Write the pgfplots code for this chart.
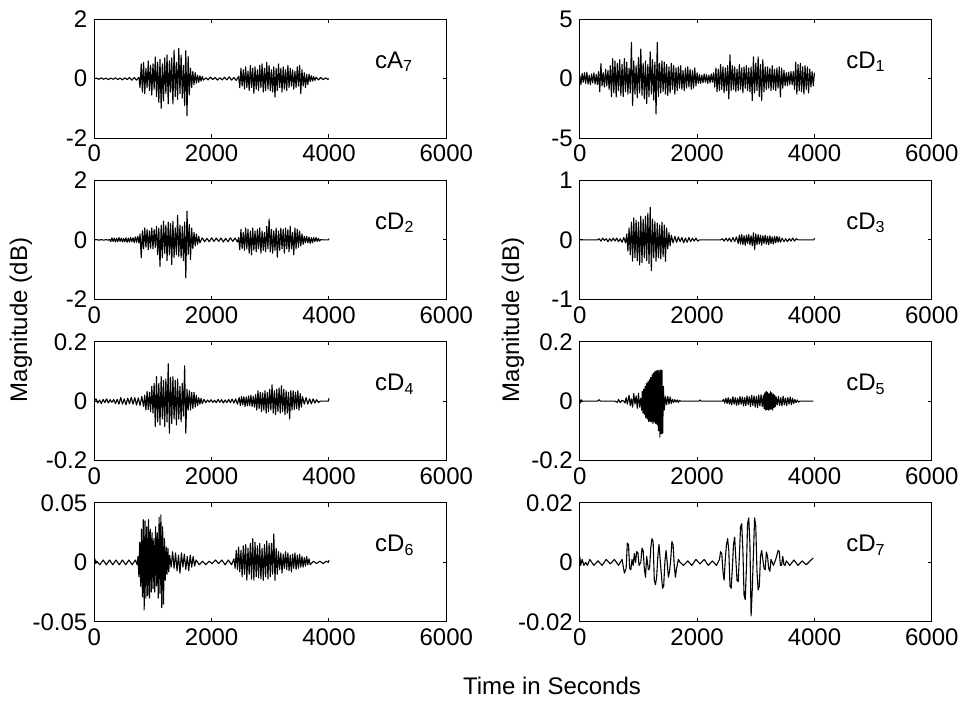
\documentclass[border=0pt]{standalone}
\usepackage{pgfplots}
\pgfplotsset{compat=1.18}
\usepackage{fontspec}
\setmainfont{Liberation Sans}

\pgfplotsset{
  sub/.style={
    scale only axis, width=176pt, height=59.4pt,
    anchor=north west,
    xmin=0, xmax=6000,
    xtick={0,2000,4000,6000}, xticklabels={0,2000,4000,6000},
    scaled ticks=false,
    tick align=inside, major tick length=1.8pt,
    tick style={black, line width=0.5pt},
    axis line style={line width=0.5pt},
    tick label style={font=\fontsize{12}{14}\selectfont},
  },
}
\tikzset{
  lab/.style={anchor=base west, inner sep=0pt, font=\fontsize{12}{14}\selectfont},
  sig/.style={black, line width=0.55pt, mark=none, line join=round},
}

\begin{document}
\begin{tikzpicture}
\useasboundingbox (0,0) rectangle (483pt,351pt);

% row 1 left: cA7
\begin{axis}[sub, at={(47.15pt,341.35pt)}, ymin=-2, ymax=2, ytick={-2,0,2}, yticklabels={-2,0,2}]
\addplot[sig] coordinates {(0,0)(40,0.02)(80,-0.02)(120,0.03)(160,-0.02)(200,0.02)(240,-0.03)(280,0.02)(320,-0.02)(360,0.03)(400,-0.03)(440,0.02)(480,-0.04)(520,0.03)(560,-0.03)(600,0.04)(640,-0.05)(680,0.04)(720,-0.05)(760,0.05)
(780,-0.3)(800,0.5)(820,-0.45)(840,0.55)(860,-0.5)(880,0.35)(900,-0.3)(920,0.6)(940,-0.4)(960,0.45)(980,-0.55)(1000,0.5)(1020,-0.35)(1040,0.73)(1060,-0.6)(1080,0.55)(1100,-0.8)(1120,0.65)(1140,-1.0)(1160,0.5)(1180,-0.75)(1200,0.7)(1220,-0.5)(1240,0.8)(1260,-0.85)(1280,0.6)(1300,-0.45)(1320,0.7)(1340,-0.85)(1360,0.96)(1380,-0.6)(1400,0.55)(1420,-0.7)(1440,1.02)(1460,-0.5)(1480,0.8)(1500,-0.65)(1520,0.45)(1540,-0.9)(1560,0.95)(1580,-1.24)(1600,0.75)(1620,-0.55)(1640,0.35)(1660,-0.3)(1680,0.25)(1700,-0.2)(1720,0.2)(1740,-0.15)(1760,0.12)(1780,-0.12)(1800,0.1)(1820,-0.08)(1840,0.08)(1860,-0.05)
(1900,0.03)(1940,-0.04)(1980,0.05)(2020,-0.03)(2060,0.04)(2100,-0.05)(2140,0.03)(2180,-0.04)(2220,0.05)(2260,-0.04)(2300,0.06)(2340,-0.05)(2380,0.04)(2420,-0.06)(2460,0.08)
(2480,-0.3)(2500,0.35)(2520,-0.25)(2540,0.3)(2560,-0.35)(2580,0.4)(2600,-0.3)(2620,0.25)(2640,-0.4)(2660,0.45)(2680,-0.3)(2700,0.35)(2720,-0.5)(2740,0.4)(2760,-0.35)(2780,0.3)(2800,-0.4)(2820,0.45)(2840,-0.3)(2860,0.5)(2880,-0.45)(2900,0.35)(2920,-0.4)(2940,0.55)(2960,-0.35)(2980,0.45)(3000,-0.4)(3020,0.3)(3040,-0.45)(3060,0.4)(3080,-0.62)(3100,0.35)(3120,-0.4)(3140,0.5)(3160,-0.3)(3180,0.35)(3200,-0.45)(3220,0.4)(3240,-0.35)(3260,0.3)(3280,-0.4)(3300,0.45)(3320,-0.3)(3340,0.35)(3360,-0.25)(3380,0.3)(3400,-0.35)(3420,0.25)(3440,-0.3)(3460,0.4)(3480,-0.25)(3500,0.45)(3520,-0.5)(3540,0.3)(3560,-0.25)(3580,0.2)(3600,-0.3)(3620,0.15)(3640,-0.2)(3660,0.15)(3680,-0.1)(3700,0.1)(3720,-0.08)(3740,0.07)(3760,-0.06)(3780,0.05)
(3820,-0.04)(3860,0.04)(3900,-0.03)(3940,0.03)(3980,-0.02)(4000,0)};
\node[lab] at (rel axis cs:0.797,0.59) {cA\textsubscript{7}};
\end{axis}

% row 1 right: cD1
\begin{axis}[sub, at={(289.9pt,341.35pt)}, ymin=-5, ymax=5, ytick={-5,0,5}, yticklabels={-5,0,5}]
\addplot[sig] coordinates {(0,0.3)(20,-0.5)(40,0.45)(60,-0.3)(80,0.5)(100,-0.4)(120,0.55)(140,-0.45)(160,0.3)(180,-0.5)(200,0.4)(220,-0.35)(240,0.5)(260,-0.45)(280,0.35)(300,-0.5)(320,0.6)(340,-1.1)(360,1.27)(380,-0.6)(400,0.5)(420,-0.7)(440,0.8)(460,-0.6)(480,0.7)(500,-0.9)(520,1.1)(540,-1.5)(560,1.7)(580,-1.2)(600,1.5)(620,-1.55)(640,1.3)(660,-1.0)(680,1.6)(700,-1.4)(720,1.2)(740,-1.5)(760,1.7)(780,-1.1)(800,1.4)(820,-1.3)(840,0.9)(860,-1.2)(880,3.05)(900,-2.26)(920,1.5)(940,-1.3)(960,1.1)(980,-1.6)(1000,1.8)(1020,-1.2)(1040,2.5)(1060,-1.4)(1080,1.3)(1100,-1.7)(1120,1.5)(1140,-2.1)(1160,1.2)(1180,-1.5)(1200,2.26)(1220,-1.3)(1240,1.6)(1260,-1.8)(1280,1.4)(1300,-2.97)(1320,3.05)(1340,-1.5)(1360,1.3)(1380,-1.2)(1400,1.5)(1420,-1.1)(1440,1.4)(1460,-1.3)(1480,1.2)(1500,-1.4)(1520,1.0)(1540,-1.2)(1560,1.3)(1580,-0.9)(1600,1.1)(1620,-1.3)(1640,0.9)(1660,-1.0)(1680,1.0)(1700,-0.8)(1720,1.1)(1740,-0.9)(1760,0.7)(1780,-1.0)(1800,0.9)(1820,-0.8)(1840,1.0)(1860,-0.7)(1880,0.8)(1900,-0.9)(1920,0.7)(1940,-0.8)(1960,0.9)(1980,-0.6)(2000,0.5)(2020,-0.4)(2040,0.35)(2060,-0.4)(2080,0.3)(2100,-0.35)(2120,0.4)(2140,-0.3)(2160,0.35)(2180,-0.4)(2200,0.3)(2220,-0.35)(2240,0.4)(2260,-0.3)(2280,0.5)(2300,-0.7)(2320,0.9)(2340,-1.1)(2360,0.8)(2380,-1.0)(2400,1.2)(2420,-0.9)(2440,1.0)(2460,-1.2)(2480,0.9)(2500,-1.0)(2520,1.1)(2540,-1.7)(2560,2.0)(2580,-1.0)(2600,1.1)(2620,-0.9)(2640,1.0)(2660,-1.1)(2680,0.8)(2700,-1.0)(2720,1.2)(2740,-0.9)(2760,0.9)(2780,-1.2)(2800,1.0)(2820,-0.8)(2840,1.1)(2860,-1.0)(2880,0.9)(2900,-1.1)(2920,1.0)(2940,-1.84)(2960,1.84)(2980,-1.2)(3000,1.3)(3020,-1.0)(3040,1.84)(3060,-1.5)(3080,1.2)(3100,-1.84)(3120,1.6)(3140,-1.1)(3160,1.0)(3180,-0.9)(3200,1.0)(3220,-0.8)(3240,0.9)(3260,-1.0)(3280,1.1)(3300,-0.9)(3320,0.8)(3340,-1.0)(3360,0.9)(3380,-0.8)(3400,1.0)(3420,-1.55)(3440,0.9)(3460,-0.8)(3480,0.7)(3500,-0.6)(3520,0.5)(3540,-0.6)(3560,0.55)(3580,-0.5)(3600,0.6)(3620,-0.5)(3640,0.6)(3660,-0.9)(3680,1.4)(3700,-1.3)(3720,1.2)(3740,-1.0)(3760,1.3)(3780,-1.1)(3800,1.0)(3820,-1.3)(3840,1.1)(3860,-0.9)(3880,1.0)(3900,-1.2)(3920,0.8)(3940,-0.7)(3960,0.6)(3980,-0.6)(4000,0.5)};
\node[lab] at (rel axis cs:0.756,0.59) {cD\textsubscript{1}};
\end{axis}

% row 2 left: cD2
\begin{axis}[sub, at={(47.15pt,260.75pt)}, ymin=-2, ymax=2, ytick={-2,0,2}, yticklabels={-2,0,2}]
\addplot[sig] coordinates {(0,0)(40,0.01)(80,-0.01)(120,0.01)(160,-0.01)(200,0.01)(240,-0.01)
(260,0.02)(280,-0.06)(300,0.07)(320,-0.05)(340,0.06)(360,-0.07)(380,0.05)(400,-0.06)(420,0.08)(440,-0.05)(460,0.06)(480,-0.07)(500,0.05)(520,-0.06)(540,0.07)(560,-0.08)(580,0.06)(600,-0.07)(620,0.08)(640,-0.06)(660,0.07)(680,-0.09)(700,0.1)(720,-0.08)(740,0.12)(760,-0.1)
(780,0.2)(800,-0.6)(820,0.31)(840,-0.3)(860,0.4)(880,-0.25)(900,0.35)(920,-0.33)(940,0.3)(960,-0.28)(980,0.4)(1000,-0.3)(1020,0.35)(1040,-0.25)(1060,0.45)(1080,-0.5)(1100,0.4)(1120,-0.89)(1140,0.5)(1160,-0.6)(1180,0.63)(1200,-0.45)(1220,0.5)(1240,-0.7)(1260,0.6)(1280,-0.5)(1300,0.55)(1320,-0.83)(1340,0.63)(1360,-0.6)(1380,0.4)(1400,-0.5)(1420,0.83)(1440,-0.55)(1460,0.5)(1480,-0.6)(1500,0.45)(1520,-0.7)(1540,0.6)(1560,-1.28)(1580,0.97)(1600,-0.5)(1620,0.52)(1640,-0.66)(1660,0.4)(1680,-0.3)(1700,0.25)(1720,-0.2)(1740,0.2)(1760,-0.15)(1780,0.12)(1800,-0.1)
(1840,0.07)(1880,-0.06)(1920,0.05)(1960,-0.06)(2000,0.07)(2040,-0.05)(2080,0.06)(2120,-0.05)(2160,0.06)(2200,-0.07)(2240,0.05)(2280,-0.06)(2320,0.07)(2360,-0.05)(2400,0.06)(2440,-0.07)(2460,0.08)
(2480,-0.33)(2500,0.35)(2520,-0.3)(2540,0.25)(2560,-0.35)(2580,0.4)(2600,-0.3)(2620,0.35)(2640,-0.45)(2660,0.3)(2680,-0.5)(2700,0.4)(2720,-0.35)(2740,0.3)(2760,-0.4)(2780,0.35)(2800,-0.3)(2820,0.4)(2840,-0.45)(2860,0.3)(2880,-0.35)(2900,0.25)(2920,-0.4)(2940,0.45)(2960,-0.3)(2980,0.7)(3000,-0.4)(3020,0.35)(3040,-0.45)(3060,0.3)(3080,-0.35)(3100,0.4)(3120,-0.58)(3140,0.3)(3160,-0.35)(3180,0.4)(3200,-0.3)(3220,0.35)(3240,-0.45)(3260,0.4)(3280,-0.3)(3300,0.35)(3320,-0.4)(3340,0.45)(3360,-0.3)(3380,0.25)(3400,-0.5)(3420,0.4)(3440,-0.3)(3460,0.35)(3480,-0.25)(3500,0.3)(3520,-0.2)(3540,0.2)(3560,-0.15)
(3580,0.12)(3600,-0.1)(3620,0.12)(3640,-0.1)(3660,0.1)(3680,-0.12)(3700,0.08)(3720,-0.1)(3740,0.08)(3760,-0.06)(3780,0.08)(3800,-0.05)(3820,0.05)(3840,-0.04)(3860,0.01)(3900,0)(3990,0)(4000,0.04)};
\node[lab] at (rel axis cs:0.797,0.59) {cD\textsubscript{2}};
\end{axis}

% row 2 right: cD3
\begin{axis}[sub, at={(289.9pt,260.75pt)}, ymin=-1, ymax=1, ytick={-1,0,1}, yticklabels={-1,0,1}]
\addplot[sig] coordinates {(0,0)(100,0)(200,0)(300,0)(330,0.02)(360,-0.02)(390,0.03)(420,-0.01)(450,0.02)(480,-0.03)(510,0.02)(540,-0.02)(570,0.03)(600,-0.02)(630,0.03)(660,-0.03)(690,0.02)(720,-0.04)(750,0.04)(780,-0.05)
(800,0.1)(820,-0.19)(840,0.2)(860,-0.25)(880,0.3)(900,-0.36)(920,0.37)(940,-0.3)(960,0.33)(980,-0.35)(1000,0.3)(1020,-0.42)(1040,0.4)(1060,-0.38)(1080,0.35)(1100,-0.3)(1120,0.4)(1140,-0.35)(1160,0.45)(1180,-0.4)(1200,0.55)(1220,-0.52)(1240,0.35)(1260,-0.3)(1280,0.31)(1300,-0.36)(1320,0.28)(1340,-0.3)(1360,0.25)(1380,-0.32)(1400,0.3)(1420,-0.28)(1440,0.25)(1460,-0.36)(1480,0.2)(1500,-0.15)(1520,0.12)(1540,-0.1)(1560,0.08)
(1590,-0.05)(1620,0.06)(1650,-0.04)(1680,0.05)(1710,-0.03)(1740,0.04)(1770,-0.05)(1800,0.03)(1830,-0.04)(1860,0.04)(1890,-0.03)(1920,0.03)(1950,-0.02)(1980,0.03)(2010,-0.02)(2040,0)(2200,0)(2400,0)
(2430,0.02)(2460,-0.02)(2490,0.03)(2520,-0.02)(2550,0.03)(2580,-0.03)(2610,0.04)(2640,-0.03)(2670,0.05)(2700,-0.06)
(2720,0.08)(2740,-0.07)(2760,0.09)(2780,-0.08)(2800,0.07)(2820,-0.09)(2840,0.08)(2860,-0.06)(2880,0.09)(2900,-0.08)(2920,0.07)(2940,-0.1)(2960,0.12)(2980,-0.16)(3000,0.1)(3020,-0.08)(3040,0.09)(3060,-0.07)(3080,0.08)(3100,-0.09)(3120,0.07)(3140,-0.06)(3160,0.08)(3180,-0.07)(3200,0.06)(3220,-0.08)(3240,0.07)(3260,-0.06)(3280,0.05)(3300,-0.07)(3320,0.06)(3340,-0.05)(3360,0.06)(3380,-0.04)(3400,0.05)(3420,-0.04)
(3450,0.03)(3480,-0.03)(3510,0.02)(3540,-0.03)(3570,0.02)(3600,-0.02)(3630,0.03)(3660,-0.02)(3690,0.02)(3720,0)(3800,0)(3900,0)(3990,0)(4000,0.03)};
\node[lab] at (rel axis cs:0.756,0.59) {cD\textsubscript{3}};
\end{axis}

% row 3 left: cD4
\begin{axis}[sub, at={(47.15pt,180.1pt)}, ymin=-0.2, ymax=0.2, ytick={-0.2,0,0.2}, yticklabels={-0.2,0,0.2}]
\addplot[sig] coordinates {(0,0)(30,0.008)(60,-0.006)(90,0.004)(120,-0.008)(150,0.006)(180,-0.005)(210,0.008)(240,-0.006)(270,0.005)(300,-0.004)(330,0.006)(360,-0.008)(390,0.006)(420,-0.01)(450,0.012)(480,-0.01)(510,0.008)(540,-0.012)(570,0.01)(600,-0.009)(630,0.013)(660,-0.01)(690,0.012)(720,-0.013)(750,0.011)(780,-0.014)(810,0.016)(840,-0.018)
(860,0.02)(880,-0.03)(900,0.033)(920,-0.028)(940,0.03)(960,-0.035)(980,0.05)(1000,-0.04)(1020,0.06)(1040,-0.085)(1060,0.083)(1080,-0.07)(1100,0.06)(1120,-0.08)(1140,0.083)(1160,-0.06)(1180,0.07)(1200,-0.085)(1220,0.075)(1240,-0.07)(1260,0.126)(1280,-0.108)(1300,0.08)(1320,-0.075)(1340,0.083)(1360,-0.06)(1380,0.07)(1400,-0.08)(1420,0.075)(1440,-0.06)(1460,0.05)(1480,-0.07)(1500,0.06)(1520,-0.05)(1540,0.119)(1560,-0.108)(1580,0.04)(1600,-0.03)(1620,0.035)(1640,-0.03)(1660,0.03)(1680,-0.025)(1700,0.03)(1720,-0.02)(1740,0.02)(1760,-0.015)(1780,0.012)(1800,-0.01)(1820,0.01)(1840,-0.008)
(1870,0.006)(1900,-0.005)(1930,0.004)(1960,-0.003)(1990,0.005)(2020,-0.004)(2050,0.003)(2080,-0.005)(2110,0.006)(2140,-0.004)(2170,0.005)(2200,-0.006)(2230,0.004)(2260,-0.005)(2290,0.006)(2320,-0.005)(2350,0.007)(2380,-0.006)(2410,0.008)(2440,-0.01)(2470,0.012)
(2490,-0.015)(2510,0.016)(2530,-0.012)(2550,0.015)(2570,-0.018)(2590,0.014)(2610,-0.016)(2630,0.018)(2650,-0.015)(2670,0.02)(2690,-0.018)(2710,0.016)(2730,-0.02)(2750,0.022)(2770,-0.03)(2790,0.035)(2810,-0.025)(2830,0.03)(2850,-0.035)(2870,0.028)(2890,-0.03)(2910,0.035)(2930,-0.04)(2950,0.03)(2970,-0.035)(2990,0.04)(3010,-0.03)(3030,0.055)(3050,-0.04)(3070,0.035)(3090,-0.045)(3110,0.04)(3130,-0.035)(3150,0.045)(3170,-0.04)(3190,0.052)(3210,-0.035)(3230,0.04)(3250,-0.045)(3270,0.035)(3290,-0.04)(3310,0.03)(3330,-0.06)(3350,0.036)(3370,-0.03)(3390,0.035)(3410,-0.028)(3430,0.03)(3450,-0.025)(3470,0.036)(3490,-0.03)(3510,0.025)(3530,-0.02)(3550,0.015)
(3580,-0.01)(3610,0.012)(3640,-0.01)(3670,0.008)(3700,-0.009)(3730,0.008)(3760,-0.006)(3790,0.005)(3820,-0.004)(3850,0)(3900,0)(3990,0)(4000,0.01)};
\node[lab] at (rel axis cs:0.797,0.59) {cD\textsubscript{4}};
\end{axis}

% row 3 right: cD5
\begin{axis}[sub, at={(289.9pt,180.1pt)}, ymin=-0.2, ymax=0.2, ytick={-0.2,0,0.2}, yticklabels={-0.2,0,0.2}]
\addplot[sig] coordinates {(0,0.004)(10,-0.006)(20,0.005)(40,0)(300,0)(330,0.005)(350,0)(600,0)(640,-0.004)(660,0.006)(690,-0.005)(720,0.003)(750,0)(770,-0.006)(790,0.012)(810,-0.01)(840,0.02)(860,-0.015)(880,0.008)(900,-0.02)(920,0.025)(940,-0.01)(960,0.018)(980,-0.024)(1000,0.027)(1020,-0.02)(1040,0.01)(1055,-0.03)
(1065,0.033)(1077,-0.04)(1089,0.04)(1101,-0.045)(1113,0.05)(1125,-0.055)(1137,0.06)(1149,-0.06)(1161,0.065)(1173,-0.068)(1185,0.072)(1197,-0.068)(1209,0.08)(1221,-0.07)(1233,0.089)(1245,-0.075)(1257,0.095)(1269,-0.07)(1281,0.1)(1293,-0.075)(1305,0.102)(1317,-0.08)(1329,0.103)(1341,-0.1)(1353,0.105)(1365,-0.121)(1377,0.105)(1389,-0.11)(1401,0.104)(1413,-0.108)(1425,0.05)(1440,-0.03)
(1460,0.015)(1480,-0.012)(1500,0.016)(1520,-0.01)(1540,0.014)(1560,-0.008)(1580,0.006)(1600,-0.004)(1620,0.005)(1640,-0.003)(1660,0.004)(1680,-0.004)(1700,0.003)(1720,0)(1800,0)(2030,0)(2050,0.004)(2070,0)(2430,0)
(2450,0.006)(2470,-0.006)(2490,0.01)(2510,-0.008)(2530,0.012)(2550,-0.01)(2570,0.008)(2590,-0.012)(2610,0.015)(2630,-0.01)(2650,0.012)(2670,-0.014)(2690,0.01)(2710,-0.012)(2730,0.016)(2750,-0.01)(2770,0.014)(2790,-0.016)(2810,0.012)(2830,-0.015)(2850,0.018)(2870,-0.012)(2890,0.015)(2910,-0.018)(2930,0.02)(2950,-0.015)(2970,0.018)(2990,-0.02)(3010,0.016)(3030,-0.022)(3050,0.02)(3070,-0.016)(3090,0.022)(3110,-0.018)(3130,0.02)
(3142,-0.025)(3154,0.028)(3166,-0.03)(3178,0.033)(3190,-0.028)(3202,0.03)(3214,-0.03)(3226,0.025)(3238,-0.028)(3250,0.032)(3262,-0.026)(3274,0.028)(3286,-0.03)(3298,0.024)(3310,-0.022)(3322,0.02)(3334,-0.018)(3346,0.015)
(3366,-0.012)(3386,0.016)(3406,-0.014)(3426,0.012)(3446,-0.016)(3466,0.017)(3486,-0.012)(3506,0.01)(3526,-0.015)(3546,0.012)(3566,-0.01)(3586,0.014)(3606,-0.012)(3626,0.01)(3646,-0.008)(3666,0.006)(3686,-0.005)(3706,0.004)(3726,-0.003)(3750,0)(3980,0)};
\node[lab] at (rel axis cs:0.756,0.59) {cD\textsubscript{5}};
\end{axis}

% row 4 left: cD6
\begin{axis}[sub, at={(47.15pt,99.5pt)}, ymin=-0.05, ymax=0.05, ytick={-0.05,0,0.05}, yticklabels={-0.05,0,0.05}]
\addplot[sig] coordinates {(0,0)(10,0.003)(25,-0.001)(40,0.001)(95,-0.002)(150,0.002)(205,-0.002)(260,0.002)(315,-0.002)(370,0.002)(425,-0.002)(480,0.002)(535,-0.002)(590,0.002)(645,-0.002)(700,0.002)(730,-0.002)
(745,0.005)(760,-0.012)(775,0.017)(790,-0.02)(805,0.028)(820,-0.029)(835,0.036)(850,-0.04)(865,0.035)(880,-0.03)(895,0.03)(910,-0.028)(925,0.036)(940,-0.03)(955,0.028)(970,-0.025)(985,0.025)(1000,-0.022)(1015,0.02)(1030,-0.025)(1045,0.03)(1060,-0.02)(1075,0.025)(1090,-0.03)(1105,0.038)(1120,-0.026)(1135,0.04)(1150,-0.038)(1165,0.03)(1180,-0.035)(1195,0.02)(1210,-0.015)(1225,0.013)(1240,-0.01)(1255,0.012)(1270,-0.008)(1285,0.006)
(1310,-0.004)(1335,0.009)(1360,-0.005)(1385,0.008)(1410,-0.007)(1435,0.006)(1460,-0.009)(1485,0.008)(1510,-0.004)(1535,0.007)(1560,-0.006)(1585,0.005)(1610,-0.007)(1635,0.006)(1660,-0.004)(1685,0.005)(1710,-0.003)(1735,0.002)
(1790,-0.002)(1845,0.001)(1900,-0.002)(1955,0.001)(2010,-0.001)(2065,0.002)(2120,-0.001)(2175,0.002)(2230,-0.002)(2285,0.002)(2340,-0.002)(2380,0.003)
(2400,-0.005)(2420,0.01)(2440,-0.006)(2460,0.013)(2480,-0.008)(2500,0.01)(2520,-0.012)(2540,0.014)(2560,-0.01)(2580,0.015)(2600,-0.015)(2620,0.012)(2640,-0.01)(2660,0.016)(2680,-0.014)(2700,0.02)(2720,-0.015)(2740,0.017)(2760,-0.012)(2780,0.014)(2800,-0.013)(2820,0.016)(2840,-0.014)(2860,0.012)(2880,-0.015)(2900,0.015)(2920,-0.012)(2940,0.018)(2960,-0.014)(2980,0.016)(3000,-0.012)(3020,0.016)(3040,-0.01)(3060,0.024)(3080,-0.015)(3100,0.012)(3120,-0.01)
(3140,0.009)(3160,-0.006)(3180,0.008)(3200,-0.009)(3220,0.007)(3240,-0.005)(3260,0.009)(3280,-0.006)(3300,0.008)(3320,-0.007)(3340,0.006)(3360,-0.008)(3380,0.007)(3400,-0.005)(3420,0.008)(3440,-0.006)(3460,0.006)(3480,-0.005)(3500,0.007)(3520,-0.004)(3540,0.005)(3560,-0.004)(3580,0.004)(3600,-0.003)(3620,0.005)(3640,-0.002)(3660,0.003)(3680,-0.002)
(3735,0.001)(3790,-0.001)(3845,0.001)(3900,-0.001)(3955,0.001)(3990,0)(4000,0.002)};
\node[lab] at (rel axis cs:0.797,0.59) {cD\textsubscript{6}};
\end{axis}

% row 4 right: cD7
\begin{axis}[sub, at={(289.9pt,99.5pt)}, ymin=-0.02, ymax=0.02, ytick={-0.02,0,0.02}, yticklabels={-0.02,0,0.02}]
\addplot[sig] coordinates {(0,0.002)(15,-0.001)(40,0.001)(70,-0.001)(100,0)(130,-0.001)(170,0.001)(240,-0.001)(310,0.0005)(380,-0.001)(450,0.001)(520,-0.0005)(590,0.001)(660,-0.001)(720,0.001)
(760,-0.0036)(790,-0.002)(810,0.0065)(830,0.006)(850,-0.002)(870,-0.0025)(890,0.001)(910,-0.001)(930,0.003)(950,0)(970,0.0036)(990,0.0033)(1010,-0.001)(1040,0)(1060,0.0048)(1080,0.004)(1100,-0.002)(1120,-0.005)(1140,0.002)(1170,-0.0025)(1190,-0.002)(1210,0.005)(1230,0.008)(1250,0.007)(1270,-0.006)(1290,-0.0075)(1310,-0.005)(1330,0.002)(1350,0.006)(1370,0.001)(1390,-0.004)(1410,-0.0087)(1430,-0.008)(1450,0)(1470,0.004)(1490,0)(1510,-0.005)(1530,-0.003)(1550,0.001)(1570,0.007)(1590,0.006)(1610,-0.001)(1630,-0.005)(1650,-0.002)(1680,0.001)(1710,0)
(1770,-0.001)(1840,0.0005)(1910,-0.001)(1980,0.001)(2050,-0.0005)(2120,0.001)(2190,-0.001)(2260,0.0005)(2330,-0.001)(2380,0.001)
(2400,0.0036)(2420,0.003)(2440,-0.003)(2460,-0.006)(2480,0.001)(2500,0.006)(2520,0.008)(2540,0.004)(2560,-0.008)(2580,-0.0087)(2600,-0.002)(2620,0.006)(2640,0.0085)(2660,0.001)(2680,-0.006)(2700,-0.0065)(2720,0.002)(2740,0.012)(2760,0.013)(2780,0.004)(2800,-0.011)(2820,-0.0125)(2840,-0.002)(2860,0.013)(2880,0.015)(2900,0.006)(2920,-0.018)(2940,-0.009)(2960,0.003)(2980,0.015)(3000,0.012)(3020,-0.003)(3040,-0.0093)(3060,-0.008)(3080,0.002)(3100,0.004)(3120,0.001)(3140,-0.002)(3160,-0.0025)(3180,0.0035)(3200,0.002)(3220,-0.002)(3240,-0.003)(3260,0.001)(3280,0)(3300,-0.001)(3340,0.001)(3380,0.004)(3400,0.0037)(3420,-0.001)(3440,-0.001)(3460,0.002)(3480,-0.0008)(3500,-0.001)(3520,0.0005)
(3580,-0.001)(3650,0.0008)(3720,-0.001)(3790,0.0005)(3860,-0.0008)(3930,0.0006)(3980,0.0015)};
\node[lab] at (rel axis cs:0.756,0.59) {cD\textsubscript{7}};
\end{axis}

\node[rotate=90, font=\fontsize{12}{14}\selectfont] at (10.5pt,191pt) {Magnitude (dB)};
\node[rotate=90, font=\fontsize{12}{14}\selectfont] at (256.5pt,191pt) {Magnitude (dB)};
\node[anchor=base, font=\fontsize{12}{14}\selectfont] at (276pt,3.5pt) {Time in Seconds};
\end{tikzpicture}
\end{document}
